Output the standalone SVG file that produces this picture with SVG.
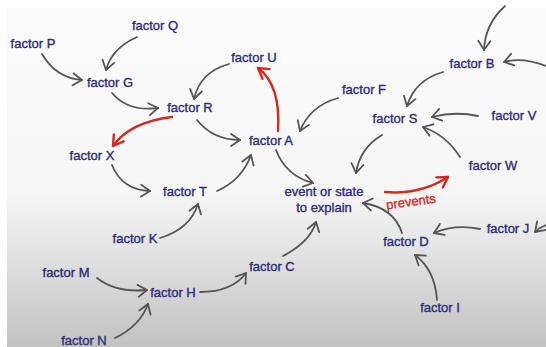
<svg xmlns="http://www.w3.org/2000/svg" width="546" height="347" viewBox="0 0 546 347">
  <defs>
    <linearGradient id="bg" x1="0" y1="0" x2="0" y2="1">
      <stop offset="0" stop-color="#fbfbfb"/>
      <stop offset="0.55" stop-color="#f6f6f6"/>
      <stop offset="1" stop-color="#c2c2c2"/>
    </linearGradient>
    <marker id="ah" markerUnits="userSpaceOnUse" markerWidth="20" markerHeight="20" viewBox="-12 -10 16 20" refX="0" refY="0" orient="auto">
      <path d="M-9,-6 L0,0 L-9,6" fill="none" stroke="#555" stroke-width="1.8" stroke-linecap="round" stroke-linejoin="round"/>
    </marker>
    <marker id="ahr" markerUnits="userSpaceOnUse" markerWidth="20" markerHeight="20" viewBox="-12 -10 16 20" refX="0" refY="0" orient="auto">
      <path d="M-10,-6 L0,0 L-10,6" fill="none" stroke="#d42a1e" stroke-width="2.4" stroke-linecap="round" stroke-linejoin="round"/>
    </marker>
  </defs>
  <style>
    text { font-family: "Liberation Sans", Arial, sans-serif; font-size: 13px; fill: #2d2b7a; stroke: #2d2b7a; stroke-width: 0.35; text-anchor: middle; }
    .c { fill: none; stroke: #555; stroke-width: 1.8; stroke-linecap: round; marker-end: url(#ah); }
    .r { fill: none; stroke: #d42a1e; stroke-width: 2.4; stroke-linecap: round; marker-end: url(#ahr); }
    text.red { fill: #d42a1e; stroke: #d42a1e; }
  </style>

  <!-- backdrop -->
  <rect width="546" height="347" fill="#ffffff"/>
  <rect x="7" y="8" width="539" height="339" fill="url(#bg)"/>

  <!-- connectors -->
  <g id="connectors">
    <path class="c" d="M137,37 Q112,48 106,70"/>
    <path class="c" d="M42,54 Q56,78 82,80"/>
    <path class="c" d="M112,93 Q128,112 158,108"/>
    <path class="c" d="M229,64 Q200,72 194,99"/>
    <path class="r" d="M172,117 Q130,122 113,146"/>
    <path class="c" d="M197,120 Q213,140 240,140"/>
    <path class="r" d="M278,131 Q281,85 258,68"/>
    <path class="c" d="M112,165 Q122,190 150,191"/>
    <path class="c" d="M217,191 Q242,180 251,155"/>
    <path class="c" d="M160,238 Q190,229 198,204"/>
    <path class="c" d="M276,150 Q286,176 313,183"/>
    <path class="c" d="M338,98 Q310,106 300,131"/>
    <path class="c" d="M443,72 Q415,80 407,106"/>
    <path class="c" d="M505,6 Q485,24 484,50"/>
    <path class="c" d="M546,66 Q522,57 504,62"/>
    <path class="c" d="M478,116 Q455,111 432,117"/>
    <path class="c" d="M460,157 Q446,135 423,127"/>
    <path class="c" d="M382,135 Q360,148 356,173"/>
    <path class="r" d="M385,192 Q420,195 448,177"/>
    <path class="c" d="M402,233 Q394,208 363,203"/>
    <path class="c" d="M480,229 Q455,224 434,233"/>
    <path class="c" d="M546,225 Q540,227 535,232"/>
    <path class="c" d="M437,300 Q435,270 415,255"/>
    <path class="c" d="M283,256 Q310,242 316,222"/>
    <path class="c" d="M97,278 Q116,293 147,290"/>
    <path class="c" d="M115,338 Q140,326 148,304"/>
    <path class="c" d="M200,292 Q232,292 246,273"/>
  </g>

  <!-- nodes -->
  <g id="factor-Q"><text x="155" y="30">factor Q</text></g>
  <g id="factor-P"><text x="33" y="48">factor P</text></g>
  <g id="factor-G"><text x="110" y="87">factor G</text></g>
  <g id="factor-U"><text x="254" y="62">factor U</text></g>
  <g id="factor-R"><text x="190" y="112">factor R</text></g>
  <g id="factor-X"><text x="92" y="160">factor X</text></g>
  <g id="factor-A"><text x="271" y="145">factor A</text></g>
  <g id="factor-F"><text x="364" y="94">factor F</text></g>
  <g id="factor-B"><text x="472" y="68">factor B</text></g>
  <g id="factor-S"><text x="395" y="123">factor S</text></g>
  <g id="factor-V"><text x="514" y="120">factor V</text></g>
  <g id="factor-W"><text x="493" y="170">factor W</text></g>
  <g id="factor-T"><text x="185" y="196">factor T</text></g>
  <g id="event"><text x="324" y="196">event or state</text><text x="324" y="212">to explain</text></g>
  <g id="prevents"><text class="red" x="411" y="206" transform="rotate(-8 411 202)">prevents</text></g>
  <g id="factor-K"><text x="135" y="243">factor K</text></g>
  <g id="factor-D"><text x="406" y="246">factor D</text></g>
  <g id="factor-J"><text x="508" y="233">factor J</text></g>
  <g id="factor-M"><text x="66" y="277">factor M</text></g>
  <g id="factor-H"><text x="173" y="297">factor H</text></g>
  <g id="factor-C"><text x="272" y="271">factor C</text></g>
  <g id="factor-I"><text x="440" y="312">factor I</text></g>
  <g id="factor-N"><text x="84" y="345">factor N</text></g>
</svg>
